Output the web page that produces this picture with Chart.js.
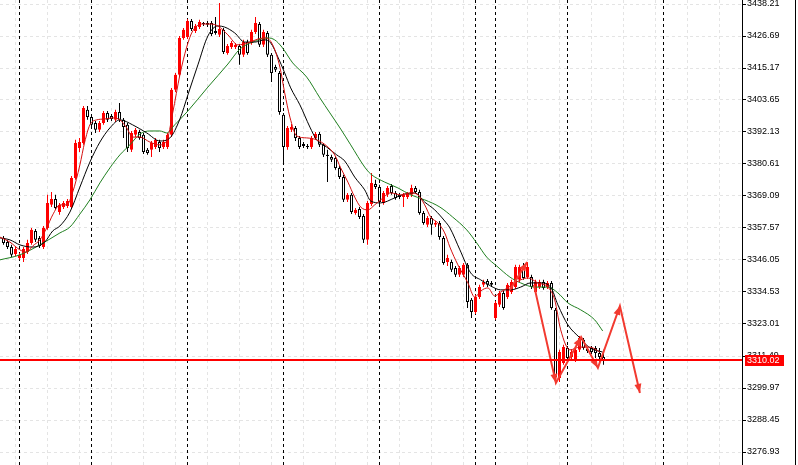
<!DOCTYPE html>
<html>
<head>
<meta charset="utf-8">
<script src="https://cdn.jsdelivr.net/npm/chart.js@4.4.0/dist/chart.umd.min.js"></script>
<style>
  html, body { margin: 0; padding: 0; background: #fff; }
  canvas { display: block; }
</style>
</head>
<body>
<canvas id="chart" width="798" height="465"></canvas>
<script>
// hourly candles, bar index 0..150
const opens = [3354.0,3352.5,3350.7,3348.2,3346.8,3346.8,3348.9,3352.2,3356.5,3354.0,
  3350.7,3357.6,3365.9,3368.0,3363.3,3365.1,3365.5,3365.1,3375.6,3386.4,
  3388.2,3400.1,3397.5,3395.4,3392.9,3395.4,3399.0,3397.9,3396.5,3399.3,
  3396.5,3394.7,3385.7,3391.1,3392.1,3391.1,3385.7,3385.7,3386.7,3388.5,
  3386.7,3386.7,3391.1,3407.3,3412.7,3426.0,3426.3,3432.1,3428.5,3429.9,
  3431.4,3431.4,3431.4,3428.5,3427.1,3428.9,3420.6,3422.7,3422.7,3423.1,
  3419.9,3424.5,3424.2,3428.1,3431.0,3423.5,3427.8,3419.9,3415.5,3413.4,
  3398.3,3386.7,3392.9,3393.6,3390.0,3387.8,3387.1,3386.7,3390.0,3391.4,
  3387.5,3383.9,3383.1,3382.8,3379.2,3375.9,3367.7,3369.5,3363.0,3364.4,
  3361.9,3353.3,3366.2,3373.4,3372.3,3366.6,3369.5,3372.7,3370.2,3369.5,
  3368.7,3368.7,3369.5,3372.0,3370.5,3363.0,3358.7,3361.2,3358.7,3359.4,
  3354.0,3345.3,3345.3,3343.2,3340.7,3340.7,3344.3,3331.7,3327.3,3332.7,
  3337.1,3338.5,3337.8,3325.2,3329.9,3334.2,3332.7,3334.5,3336.3,3338.9,
  3343.5,3339.9,3339.9,3334.5,3336.3,3338.1,3336.3,3337.8,3328.1,3303.6,
  3309.0,3314.4,3311.1,3310.1,3313.7,3317.3,3314.0,3314.4,3314.4,3312.6,
  3311.1];
const highs = [3354.7,3353.3,3351.5,3350.7,3348.6,3350.7,3353.3,3357.6,3357.2,3354.7,
  3358.3,3369.5,3370.5,3369.5,3366.6,3367.3,3368.0,3376.3,3389.3,3390.0,
  3401.5,3401.5,3398.3,3396.1,3396.1,3399.7,3399.7,3398.6,3400.1,3402.6,
  3397.2,3395.4,3392.5,3393.6,3392.9,3391.8,3386.4,3388.9,3390.0,3389.3,
  3389.3,3391.8,3408.0,3413.4,3426.7,3429.6,3432.8,3432.8,3431.0,3432.5,
  3431.7,3432.1,3432.1,3433.5,3438.6,3429.6,3423.8,3424.9,3424.2,3423.8,
  3425.3,3425.3,3428.9,3433.5,3431.7,3428.9,3428.5,3420.6,3416.3,3414.1,
  3399.0,3394.3,3395.0,3394.3,3390.7,3388.5,3387.8,3390.7,3392.1,3392.1,
  3388.2,3385.7,3383.9,3383.5,3379.9,3376.7,3370.2,3370.2,3364.8,3365.1,
  3362.6,3367.3,3377.4,3374.9,3373.1,3370.9,3372.7,3373.4,3370.9,3370.2,
  3370.2,3370.5,3373.1,3372.7,3371.3,3363.7,3361.9,3361.9,3360.1,3360.1,
  3354.7,3347.9,3346.1,3343.9,3343.9,3345.0,3345.0,3332.4,3333.5,3337.1,
  3338.9,3339.2,3338.5,3331.3,3334.9,3334.9,3337.8,3338.9,3344.3,3344.3,
  3345.0,3345.3,3340.7,3338.9,3338.9,3338.9,3338.5,3338.5,3328.8,3313.7,
  3315.5,3315.1,3313.7,3314.4,3318.7,3318.0,3314.7,3315.1,3315.1,3314.4,
  3313.7];
const lows = [3351.5,3350.0,3347.1,3347.5,3346.1,3345.3,3348.2,3351.5,3352.5,3350.4,
  3350.0,3356.9,3365.1,3364.1,3362.3,3364.4,3364.8,3364.4,3374.9,3384.9,
  3387.5,3396.5,3393.6,3391.8,3392.1,3394.7,3395.7,3396.1,3395.7,3395.7,
  3390.0,3384.9,3384.9,3390.3,3389.3,3384.2,3383.9,3383.1,3386.0,3384.9,
  3386.0,3386.0,3390.3,3406.5,3411.9,3425.3,3425.6,3428.5,3427.8,3429.2,
  3430.3,3429.9,3426.7,3427.1,3426.3,3420.2,3419.9,3422.0,3422.0,3416.3,
  3419.1,3419.9,3423.5,3427.4,3422.7,3422.7,3419.1,3410.1,3413.7,3398.3,
  3381.3,3385.7,3392.1,3388.9,3386.0,3386.4,3386.0,3386.0,3389.3,3386.7,
  3383.1,3374.1,3381.3,3378.5,3375.2,3366.9,3366.9,3362.6,3362.3,3360.8,
  3352.2,3351.5,3365.5,3371.6,3366.2,3365.9,3368.7,3369.5,3367.7,3368.0,
  3365.1,3368.0,3368.7,3369.8,3362.3,3358.7,3357.9,3355.1,3357.9,3353.3,
  3344.3,3343.9,3341.7,3339.9,3339.9,3339.9,3328.8,3325.2,3326.6,3332.0,
  3336.3,3336.3,3336.3,3324.5,3329.1,3328.1,3332.0,3333.8,3335.6,3338.1,
  3338.9,3339.2,3335.6,3333.8,3335.6,3335.3,3335.6,3328.1,3301.8,3302.1,
  3308.3,3309.3,3310.1,3309.3,3312.9,3313.7,3312.6,3312.2,3310.8,3308.6,
  3308.3];
const closes = [3352.2,3350.7,3347.9,3350.0,3347.9,3350.0,3352.2,3356.9,3353.3,3351.1,
  3357.6,3366.6,3368.0,3364.8,3365.9,3366.6,3367.3,3375.6,3388.2,3388.5,
  3400.8,3397.5,3394.7,3392.9,3395.4,3399.0,3396.5,3396.8,3399.3,3396.5,
  3393.9,3386.4,3391.8,3392.9,3390.0,3384.9,3384.6,3388.2,3389.3,3386.4,
  3388.5,3391.1,3407.3,3412.7,3426.0,3428.9,3432.1,3429.2,3430.3,3431.7,
  3431.0,3430.7,3427.4,3427.8,3429.2,3420.9,3423.1,3424.2,3423.5,3419.9,
  3424.5,3420.6,3428.1,3431.4,3423.5,3428.1,3419.9,3413.4,3414.5,3399.3,
  3386.7,3393.6,3393.9,3390.0,3386.7,3387.1,3386.7,3390.0,3391.4,3387.5,
  3383.9,3383.5,3382.1,3379.2,3375.9,3367.7,3369.5,3363.3,3364.1,3361.5,
  3353.3,3366.6,3373.8,3372.3,3366.9,3370.2,3372.0,3370.2,3368.4,3368.7,
  3369.5,3369.8,3372.0,3370.5,3363.0,3359.4,3361.2,3358.7,3359.4,3354.3,
  3345.0,3346.8,3342.5,3340.7,3343.2,3344.3,3330.9,3327.3,3332.7,3336.3,
  3338.1,3337.1,3337.1,3330.6,3334.2,3328.8,3337.1,3338.1,3343.5,3343.5,
  3339.6,3343.5,3336.3,3338.1,3338.1,3336.0,3337.8,3328.8,3303.9,3312.9,
  3314.7,3310.8,3312.9,3313.7,3318.0,3314.4,3313.3,3312.9,3312.6,3311.1,
  3310.02];

// moving averages (bar index, price)
const maFastIdx = [-0.9,1.6,4.1,5.8,7.3,9.1,10.8,12.3,14.1,15.8,17.3,19.1,20.3,21.6,23.3,25.3,27.3,29.1,30.8,32.3,
  34.1,36.6,39.1,40.8,42.3,44.1,45.8,47.3,49.8,51.8,53.6,56.1,58.6,61.1,63.6,65.6,67.3,69.1,70.3,71.6,
  73.3,75.8,78.3,80.8,82.8,84.3,86.1,87.8,89.3,91.1,92.8,94.3,96.8,99.3,101.8,103.6,105.3,106.8,108.6,110.3,
  111.6,113.6,116.1,117.8,119.3,121.1,122.8,124.3,126.8,129.3,131.1,133.6,136.1,137.8,139.3,141.6,144.1,146.6,149.1];
const maFast = [3354.3,3352.5,3349.7,3348.9,3351.1,3353.3,3357.6,3362.3,3365.9,3365.9,3370.5,3380.3,3388.5,3394.7,3396.5,3396.8,3397.2,3396.5,3393.6,3390.3,
  3390.3,3388.5,3387.5,3388.9,3399.0,3412.7,3422.7,3428.5,3431.0,3431.0,3430.3,3427.1,3423.5,3424.2,3425.6,3426.0,3423.5,3415.5,3406.2,3397.5,
  3390.7,3390.0,3389.3,3387.1,3383.9,3379.2,3374.1,3368.7,3365.1,3364.1,3365.9,3367.7,3370.2,3369.5,3370.2,3369.5,3365.9,3361.5,3359.4,3355.8,
  3350.7,3344.3,3337.8,3332.7,3334.9,3336.0,3333.1,3334.5,3336.7,3338.9,3339.6,3337.8,3336.3,3331.7,3320.9,3313.7,3314.7,3314.7,3312.9];
const maMidIdx = [-0.9,1.6,4.1,7.3,10.3,12.3,14.1,16.6,19.1,21.6,24.1,26.6,29.1,32.3,35.8,39.1,41.6,44.1,46.1,48.6,
  51.1,53.6,55.3,57.8,60.3,62.8,65.3,66.8,68.6,70.3,71.8,74.1,76.6,78.3,80.8,83.3,85.3,87.8,90.3,91.8,
  94.3,97.8,100.3,102.8,105.3,107.8,110.3,111.6,114.1,116.8,119.3,121.8,124.3,126.8,129.3,131.8,134.3,136.8,138.6,141.1,
  144.1,146.6,149.8];
const maMid = [3354.0,3353.3,3351.5,3350.7,3352.5,3356.5,3358.3,3363.3,3372.3,3381.3,3388.5,3393.6,3396.5,3394.7,3391.8,3388.9,3390.0,3396.8,3405.5,3416.3,
  3426.7,3430.3,3429.9,3427.8,3424.5,3424.5,3425.3,3424.2,3419.1,3413.4,3408.0,3401.9,3393.9,3389.3,3386.7,3383.9,3381.7,3375.9,3371.3,3367.3,
  3366.6,3368.4,3369.8,3370.2,3366.9,3364.1,3360.1,3357.6,3349.7,3341.4,3338.9,3336.7,3335.3,3335.3,3336.3,3337.8,3337.8,3336.3,3329.9,3322.7,
  3318.0,3314.4,3312.9];
const maSlowIdx = [-0.9,4.1,9.1,14.1,16.6,19.1,21.6,24.1,26.6,29.1,31.6,34.1,36.6,39.1,40.8,42.8,46.1,51.1,56.1,59.1,
  62.3,66.1,67.8,69.6,72.3,75.8,79.1,81.6,84.3,86.8,90.3,91.8,95.3,98.6,101.8,105.3,109.1,112.3,115.8,118.3,
  120.8,123.3,126.6,129.3,132.8,136.1,138.6,141.1,144.3,147.8,149.8];
const maSlow = [3346.1,3347.9,3351.5,3355.8,3357.9,3362.6,3367.7,3373.8,3379.2,3383.9,3387.5,3391.4,3392.5,3392.5,3391.8,3394.7,3399.7,3408.3,3416.6,3422.0,
  3424.5,3426.0,3425.3,3422.7,3417.0,3411.9,3404.4,3399.0,3393.2,3387.5,3379.5,3377.0,3374.1,3372.0,3369.5,3367.7,3365.1,3361.5,3356.9,3352.2,
  3347.1,3343.9,3339.9,3337.8,3336.3,3336.3,3334.2,3330.6,3328.1,3324.5,3320.5];

// hand drawn arrows (bar index, price)
const arrow1Idx = [126.6, 130.9];
const arrow1Val = [3335.3, 3345.3];
const arrow2Idx = [132.6, 138.1, 144.4, 148.6, 154.1, 159.1];
const arrow2Val = [3337.1, 3301.8, 3318.3, 3307.2, 3329.5, 3298.2];

const dayStarts = [4, 22, 46, 70, 94, 118, 123, 141, 165];
const priceTicks = [3438.21, 3426.69, 3415.17, 3403.65, 3392.13, 3380.61, 3369.09, 3357.57,
  3346.05, 3334.53, 3323.01, 3311.49, 3299.97, 3288.45, 3276.93];
const bidPrice = 3310.02;

const RED = '#ff0000';
const idx = opens.map((_, i) => i);
const isUp = idx.map(i => closes[i] > opens[i]);
const pts = (xs, ys) => xs.map((x, i) => ({x: x, y: ys[i]}));
const noPad = s => { s.paddingTop = 0; s.paddingBottom = 0; s.paddingLeft = 0; s.paddingRight = 0; };

const separators = {
  id: 'separators',
  beforeDatasetsDraw(chart) {
    const {ctx, chartArea: a, scales: {x}} = chart;
    ctx.save();
    ctx.strokeStyle = '#000';
    ctx.lineWidth = 1;
    ctx.setLineDash([3, 3]);
    dayStarts.forEach(d => {
      const px = Math.floor(x.getPixelForValue(d)) + 0.5;
      if (px > a.right) return;
      ctx.beginPath();
      ctx.moveTo(px, a.top);
      ctx.lineTo(px, a.bottom);
      ctx.stroke();
    });
    ctx.restore();
  }
};

function head(ctx, x0, y0, x1, y1) {
  const ang = Math.atan2(y1 - y0, x1 - x0);
  const len = 9, half = 3.5;
  const c = Math.cos(ang), s = Math.sin(ang);
  ctx.beginPath();
  ctx.moveTo(x1, y1);
  ctx.lineTo(x1 - len * c + half * s, y1 - len * s - half * c);
  ctx.lineTo(x1 - len * c - half * s, y1 - len * s + half * c);
  ctx.closePath();
  ctx.fill();
}

const overlays = {
  id: 'overlays',
  afterDatasetsDraw(chart) {
    const {ctx, chartArea: a, scales: {x, y}} = chart;
    ctx.save();
    ctx.fillStyle = '#f23a30';
    [[arrow1Idx, arrow1Val], [arrow2Idx, arrow2Val]].forEach(([xs, ys]) => {
      for (let i = 1; i < xs.length; i++) {
        head(ctx, x.getPixelForValue(xs[i - 1]), y.getPixelForValue(ys[i - 1]),
          x.getPixelForValue(xs[i]), y.getPixelForValue(ys[i]));
      }
    });
    const py = Math.round(y.getPixelForValue(bidPrice));
    ctx.fillStyle = RED;
    ctx.fillRect(a.left, py - 1, a.right - a.left, 2);
    ctx.restore();
  },
  afterDraw(chart) {
    const {ctx, chartArea: a, scales: {y}} = chart;
    const py = Math.round(y.getPixelForValue(bidPrice));
    ctx.save();
    ctx.fillStyle = RED;
    ctx.fillRect(a.right + 3, py - 5, 39, 11);
    ctx.fillStyle = '#fff';
    ctx.font = '9px "Liberation Sans", Arial, sans-serif';
    ctx.textBaseline = 'middle';
    ctx.textAlign = 'left';
    ctx.fillText(bidPrice.toFixed(2), a.right + 5, py + 1);
    ctx.fillStyle = '#000';
    ctx.fillRect(chart.width - 3, 0, 1, chart.height);
    ctx.restore();
  }
};

new Chart(document.getElementById('chart'), {
  type: 'bar',
  data: {
    datasets: [
      {
        type: 'line', label: 'arrows1', order: -1,
        data: pts(arrow1Idx, arrow1Val),
        borderColor: '#f23a30', borderWidth: 2, pointRadius: 0, tension: 0
      },
      {
        type: 'line', label: 'arrows2', order: -1,
        data: pts(arrow2Idx, arrow2Val),
        borderColor: '#f23a30', borderWidth: 2, pointRadius: 0, tension: 0
      },
      {
        type: 'line', label: 'MA fast', order: 0,
        data: pts(maFastIdx, maFast),
        borderColor: '#d41010', borderWidth: 1, pointRadius: 0, cubicInterpolationMode: 'monotone'
      },
      {
        type: 'line', label: 'MA mid', order: 0,
        data: pts(maMidIdx, maMid),
        borderColor: '#000', borderWidth: 1, pointRadius: 0, cubicInterpolationMode: 'monotone'
      },
      {
        type: 'line', label: 'MA slow', order: 0,
        data: pts(maSlowIdx, maSlow),
        borderColor: '#1f7f1f', borderWidth: 1, pointRadius: 0, cubicInterpolationMode: 'monotone'
      },
      {
        label: 'bodies', order: 1, grouped: false,
        data: idx.map(i => ({x: i, y: [opens[i], closes[i]]})),
        backgroundColor: idx.map(i => isUp[i] ? RED : '#fff'),
        borderColor: idx.map(i => isUp[i] ? RED : '#000'),
        borderWidth: 1, borderSkipped: false, barThickness: 3, inflateAmount: 0
      },
      {
        label: 'wicks', order: 2, grouped: false,
        data: idx.map(i => ({x: i, y: [lows[i], highs[i]]})),
        backgroundColor: idx.map(i => isUp[i] ? RED : '#000'),
        borderWidth: 0, barThickness: 1, inflateAmount: 0
      }
    ]
  },
  options: {
    responsive: false,
    animation: false,
    events: [],
    devicePixelRatio: 1,
    layout: { padding: 0, autoPadding: false },
    plugins: { legend: { display: false }, tooltip: { enabled: false } },
    scales: {
      x: {
        type: 'linear', min: -0.875, max: 184.625, offset: false,
        afterBuildTicks: s => { s.ticks = []; for (let v = 3; v <= 184; v += 8) s.ticks.push({value: v}); },
        afterFit: s => { s.height = 0; noPad(s); },
        ticks: { display: false },
        grid: { color: '#e4e4e4', drawTicks: false, offset: false },
        border: { display: false, dash: [3, 3] }
      },
      y: {
        type: 'linear', position: 'right', min: 3272.25, max: 3439.65,
        afterBuildTicks: s => { s.ticks = priceTicks.map(v => ({value: v})); },
        afterFit: s => { s.width = 56; noPad(s); },
        ticks: {
          color: '#000', padding: 1,
          font: { family: '"Liberation Sans", Arial, sans-serif', size: 9 },
          callback: v => v.toFixed(2)
        },
        grid: { color: '#e4e4e4', tickColor: '#000', tickLength: 4, drawTicks: true },
        border: { display: true, color: '#000', width: 1, dash: [3, 3] }
      }
    }
  },
  plugins: [separators, overlays]
});
</script>
</body>
</html>
